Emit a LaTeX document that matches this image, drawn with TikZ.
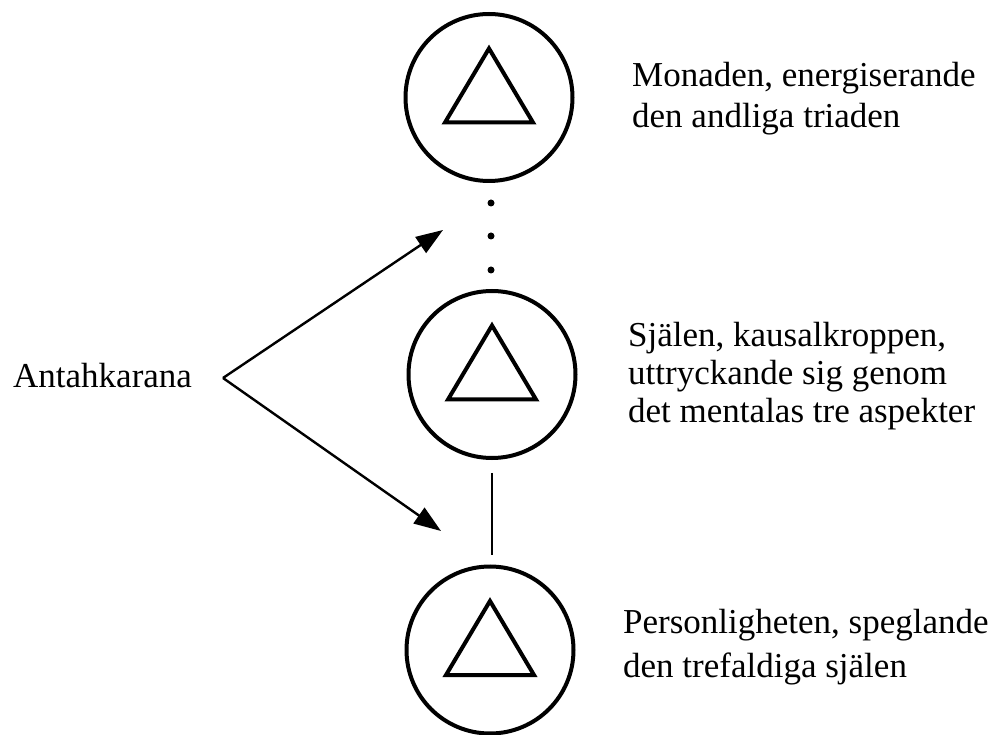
\documentclass[tikz,border=0pt]{standalone}
\usepackage{fontspec}
\setmainfont{Liberation Serif}
\usetikzlibrary{arrows.meta,shapes.geometric}
\begin{document}
\begin{tikzpicture}[x=1pt,y=-1pt,
  ring/.style={circle,draw,line width=4pt,minimum size=167pt,inner sep=0pt},
  tri/.style={line width=4pt,line join=miter},
  dotnode/.style={circle,fill,inner sep=0pt,minimum size=7pt},
  lbl/.style={anchor=base west,inner sep=0pt,font=\fontsize{35}{40}\selectfont},
  arr/.style={line width=2.4pt,-{Triangle[length=27pt,width=19pt]}},
  link/.style={line width=2.2pt}]
\useasboundingbox[fill=white] (0,0) rectangle (997,735);
% circles
\node[ring] (c1) at (489,97.5) {};
\node[ring] (c2) at (492,374.5) {};
\node[ring] (c3) at (490,650) {};
% triangles
\foreach \c in {c1,c2,c3}{
  \draw[tri] ([shift={(0,-49)}]\c.center) -- ([shift={(44,25)}]\c.center) -- ([shift={(-44,25)}]\c.center) -- cycle;
}
% dots
\node[dotnode] (d1) at (491,203) {};
\node[dotnode] (d2) at (491,236) {};
\node[dotnode] (d3) at (491,270) {};
% link line between c2 and c3
\coordinate (l1) at (492,473);
\coordinate (l2) at (492,555);
\draw[link] (l1) -- (l2);
% labels
\node[lbl] (ant) at (13,388) {Antahkarana};
\node[lbl] (m1) at (632,87) {Monaden, energiserande};
\node[lbl] (m2) at (632,128) {den andliga triaden};
\node[lbl] (s1) at (628,347) {Själen, kausalkroppen,};
\node[lbl] (s2) at (628,385) {uttryckande sig genom};
\node[lbl] (s3) at (628,423) {det mentalas tre aspekter};
\node[lbl] (p1) at (623,633) {Personligheten, speglande};
\node[lbl] (p2) at (623,677) {den trefaldiga själen};
% arrows
\coordinate (src) at (223,378);
\coordinate (tip1) at (443,230);
\coordinate (tip2) at (441,531);
\draw[arr] (src) -- (tip1);
\draw[arr] (src) -- (tip2);
\end{tikzpicture}
\end{document}
